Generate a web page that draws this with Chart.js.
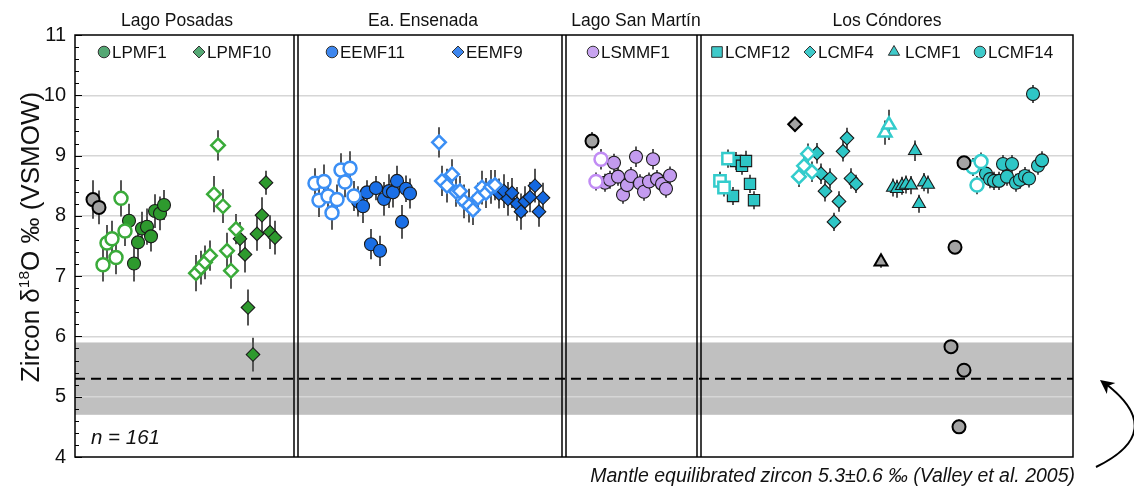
<!DOCTYPE html>
<html><head><meta charset="utf-8">
<script src="https://cdn.jsdelivr.net/npm/chart.js@4.4.1/dist/chart.umd.min.js"></script>
<style>html,body{margin:0;padding:0;background:#fff}#wrap{width:1134px;height:486px}</style>
</head><body><div id="wrap"><canvas id="c" width="1134" height="486"></canvas></div>
<script>
// ---------- DATA ----------
const yTicks = [4,5,6,7,8,9,10,11];
const panelTitles = ["Lago Posadas","Ea. Ensenada","Lago San Martín","Los Cóndores"];
const panelTitleSpots = [102,348,561,812];
const panelDividerSpots = [221,489,624];
const mantleMean = 5.3, mantleSD = 0.6;
const sampleCount = "n = 161";
const noteText = "Mantle equilibrated zircon 5.3±0.6 ‰ (Valley et al. 2005)";

// Lago Posadas
const lpGrayX=[18,24], lpGrayY=[8.27,8.14], lpGrayE=[0.32,0.28];
const lpmf1OpenX=[28,32,37,41,46,50], lpmf1OpenY=[7.19,7.55,7.62,7.31,8.29,7.75], lpmf1OpenE=[0.28,0.3,0.3,0.28,0.3,0.25];
const lpmf1X=[54,59,63,67,72,76,80,85,89], lpmf1Y=[7.92,7.21,7.56,7.79,7.82,7.66,8.08,8.04,8.18], lpmf1E=[0.28,0.3,0.3,0.28,0.3,0.25,0.28,0.28,0.25];
const lpmf10OpenX=[121,126,130,135,139,143,148,152,156,161], lpmf10OpenY=[7.05,7.14,7.23,7.34,8.36,9.17,8.16,7.42,7.09,7.78], lpmf10OpenE=[0.3,0.28,0.28,0.25,0.3,0.25,0.28,0.3,0.3,0.25];
const lpmf10X=[165,170,173,178,182,187,191,195,200], lpmf10Y=[7.62,7.36,6.48,5.70,7.70,8.01,8.55,7.73,7.64], lpmf10E=[0.28,0.3,0.3,0.28,0.28,0.3,0.2,0.28,0.28];
// Ea. Ensenada
const eemf11OpenX=[240,244,249,253,257,262,266,270,275,279], eemf11OpenY=[8.54,8.26,8.57,8.33,8.05,8.27,8.76,8.56,8.79,8.33], eemf11OpenE=[0.25,0.28,0.28,0.25,0.28,0.25,0.28,0.25,0.28,0.25];
const eemf11X=[283,288,292,296,301,305,309,314,318,322,327,331,335], eemf11Y=[8.24,8.16,8.39,7.53,8.46,7.42,8.28,8.41,8.39,8.58,7.90,8.45,8.37], eemf11E=[0.25,0.28,0.2,0.25,0.2,0.25,0.28,0.28,0.25,0.25,0.28,0.22,0.25];
const eemf9OpenX=[364,367,372,377,381,385,389,394,398,403,407,411,416,420], eemf9OpenY=[9.22,8.58,8.50,8.69,8.40,8.41,8.24,8.17,8.10,8.30,8.47,8.38,8.48,8.51], eemf9OpenE=[0.25,0.25,0.28,0.25,0.25,0.25,0.28,0.28,0.25,0.25,0.28,0.25,0.28,0.25];
const eemf9X=[424,429,433,437,442,446,450,455,460,464,468], eemf9Y=[8.37,8.41,8.28,8.38,8.20,8.07,8.24,8.31,8.50,8.07,8.30], eemf9E=[0.25,0.28,0.28,0.25,0.28,0.3,0.25,0.25,0.28,0.25,0.25];
// Lago San Martín
const lsmGrayX=[517], lsmGrayY=[9.24], lsmGrayE=[0.15];
const lsmmf1OpenX=[526,521], lsmmf1OpenY=[8.94,8.57], lsmmf1OpenE=[0.17,0.15];
const lsmmf1X=[530,535,539,543,548,552,556,561,565,569,574,578,582,587,591,595], lsmmf1Y=[8.55,8.60,8.88,8.65,8.35,8.51,8.66,8.98,8.54,8.40,8.57,8.94,8.61,8.53,8.45,8.67], lsmmf1E=[0.15,0.15,0.15,0.15,0.15,0.15,0.15,0.17,0.15,0.15,0.15,0.17,0.15,0.15,0.15,0.15];
// Los Cóndores
const lcmf12OpenX=[645,649,653], lcmf12OpenY=[8.58,8.47,8.95], lcmf12OpenE=[0.15,0.15,0.15];
const lcmf12X=[658,661,667,671,675,679], lcmf12Y=[8.33,8.91,8.83,8.91,8.53,8.26], lcmf12E=[0.15,0.15,0.15,0.17,0.15,0.15];
const lcmf4GrayX=[720], lcmf4GrayY=[9.52], lcmf4GrayE=[0.12];
const lcmf4OpenX=[724,729,733,737], lcmf4OpenY=[8.65,8.83,9.03,8.73], lcmf4OpenE=[0.17,0.17,0.17,0.17];
const lcmf4X=[742,746,750,755,759,764,768,772,776,781], lcmf4Y=[9.04,8.70,8.41,8.62,7.90,8.24,9.07,9.29,8.62,8.53], lcmf4E=[0.17,0.17,0.17,0.17,0.15,0.17,0.17,0.17,0.17,0.15];
const lcmf1GrayX=[806], lcmf1GrayY=[7.24], lcmf1GrayE=[0.1];
const lcmf1OpenX=[810,814], lcmf1OpenY=[9.38,9.51], lcmf1OpenE=[0.2,0.25];
const lcmf1X=[818,822,827,831,836,840,844,849,853], lcmf1Y=[8.47,8.45,8.50,8.52,8.51,9.08,8.20,8.56,8.52], lcmf1E=[0.15,0.15,0.15,0.15,0.15,0.17,0.15,0.15,0.15];
const lcmf14GrayX=[876,880,884,889,889], lcmf14GrayY=[5.83,7.48,4.50,8.88,5.44], lcmf14GrayE=[0.1,0.1,0.12,0.1,0.1];
const lcmf14OpenX=[898,902,906], lcmf14OpenY=[8.81,8.51,8.90], lcmf14OpenE=[0.15,0.15,0.15];
const lcmf14X=[911,915,919,924,928,932,937,941,945,950,954,958,963,967], lcmf14Y=[8.70,8.61,8.58,8.58,8.86,8.65,8.86,8.55,8.60,8.66,8.62,10.02,8.83,8.92], lcmf14E=[0.15,0.15,0.15,0.15,0.15,0.15,0.15,0.15,0.15,0.15,0.15,0.15,0.15,0.15];

const legendItems = [
  {label:"LPMF1", spot:29, style:'circle', color:'#55a874'},
  {label:"LPMF10", spot:124, style:'rectRot', color:'#55a874'},
  {label:"EEMF11", spot:257, style:'circle', color:'#3d86ee'},
  {label:"EEMF9", spot:383, style:'rectRot', color:'#3d86ee'},
  {label:"LSMMF1", spot:518, style:'circle', color:'#c8a4f0'},
  {label:"LCMF12", spot:642, style:'rect', color:'#3fcaca'},
  {label:"LCMF4", spot:735, style:'rectRot', color:'#3fcaca'},
  {label:"LCMF1", spot:819, style:'triangle', color:'#3fcaca'},
  {label:"LCMF14", spot:905, style:'circle', color:'#3fcaca'}
];

// ---------- STYLES ----------
const FONT = "'Liberation Sans', Arial, sans-serif";
const GREEN='#2e9a2e', GREEN_O='#3aab3a';
const BLUE='#1a6fe6', BLUE_O='#3b8ff5';
const PURPLE='#c39bef', PURPLE_O='#c18cf4';
const CYAN='#2ec6c6', CYAN_O='#33cccc';
const GRAY='#a3a3a3';
const RAD={circle:6.5, rectRot:6.8, rect:8, triangle:7.5};

function mk(xs, ys, es, style, kind, color){
  const data = xs.map((x,i)=>({x:x, y:ys[i]}));
  let bg, bc, bw;
  if(kind==='open'){bg='#ffffff'; bc=color; bw=2.5;}
  else if(kind==='gray'){bg=GRAY; bc='#000'; bw=2;}
  else {bg=color; bc='#1a1a1a'; bw=1.1;}
  return {data, errors:es, pointStyle:style, pointRadius:RAD[style], pointBackgroundColor:bg,
          pointBorderColor:bc, pointBorderWidth:bw, showLine:false, pointHoverRadius:RAD[style]};
}
const datasets = [
  mk(lpGrayX,lpGrayY,lpGrayE,'circle','gray'),
  mk(lpmf1OpenX,lpmf1OpenY,lpmf1OpenE,'circle','open',GREEN_O),
  mk(lpmf1X,lpmf1Y,lpmf1E,'circle','fill',GREEN),
  mk(lpmf10OpenX,lpmf10OpenY,lpmf10OpenE,'rectRot','open',GREEN_O),
  mk(lpmf10X,lpmf10Y,lpmf10E,'rectRot','fill',GREEN),
  mk(eemf11OpenX,eemf11OpenY,eemf11OpenE,'circle','open',BLUE_O),
  mk(eemf11X,eemf11Y,eemf11E,'circle','fill',BLUE),
  mk(eemf9OpenX,eemf9OpenY,eemf9OpenE,'rectRot','open',BLUE_O),
  mk(eemf9X,eemf9Y,eemf9E,'rectRot','fill','#1468e0'),
  mk(lsmGrayX,lsmGrayY,lsmGrayE,'circle','gray'),
  mk(lsmmf1OpenX,lsmmf1OpenY,lsmmf1OpenE,'circle','open',PURPLE_O),
  mk(lsmmf1X,lsmmf1Y,lsmmf1E,'circle','fill',PURPLE),
  mk(lcmf12OpenX,lcmf12OpenY,lcmf12OpenE,'rect','open',CYAN_O),
  mk(lcmf12X,lcmf12Y,lcmf12E,'rect','fill',CYAN),
  mk(lcmf4GrayX,lcmf4GrayY,lcmf4GrayE,'rectRot','gray'),
  mk(lcmf4OpenX,lcmf4OpenY,lcmf4OpenE,'rectRot','open',CYAN_O),
  mk(lcmf4X,lcmf4Y,lcmf4E,'rectRot','fill',CYAN),
  mk(lcmf1GrayX,lcmf1GrayY,lcmf1GrayE,'triangle','gray'),
  mk(lcmf1OpenX,lcmf1OpenY,lcmf1OpenE,'triangle','open',CYAN_O),
  mk(lcmf1X,lcmf1Y,lcmf1E,'triangle','fill',CYAN),
  mk(lcmf14GrayX,lcmf14GrayY,lcmf14GrayE,'circle','gray'),
  mk(lcmf14OpenX,lcmf14OpenY,lcmf14OpenE,'circle','open',CYAN_O),
  mk(lcmf14X,lcmf14Y,lcmf14E,'circle','fill',CYAN)
];

const deco = {
  id:'deco',
  beforeDraw(chart){
    const {ctx, chartArea:a} = chart; const y = chart.scales.y;
    ctx.save();
    ctx.fillStyle='#fff'; ctx.fillRect(0,0,chart.width,chart.height);
    const t=y.getPixelForValue(mantleMean+mantleSD), b=y.getPixelForValue(mantleMean-mantleSD);
    ctx.fillStyle='#c0c0c0'; ctx.fillRect(a.left,t,a.right-a.left,b-t);
    ctx.restore();
  },
  beforeDatasetsDraw(chart){
    const {ctx, chartArea:a} = chart; const y = chart.scales.y, x = chart.scales.x;
    ctx.save();
    ctx.strokeStyle='#000'; ctx.lineWidth=2; ctx.setLineDash([10,6]);
    const ym=y.getPixelForValue(mantleMean);
    ctx.beginPath(); ctx.moveTo(a.left,ym); ctx.lineTo(a.right,ym); ctx.stroke();
    ctx.setLineDash([]);
    ctx.lineWidth=1.5; ctx.strokeStyle='#000';
    panelDividerSpots.forEach(s=>{
      const px=x.getPixelForValue(s);
      [-2,2].forEach(o=>{ctx.beginPath(); ctx.moveTo(px+o,a.top); ctx.lineTo(px+o,a.bottom); ctx.stroke();});
    });
    ctx.strokeStyle='#555'; ctx.lineWidth=2;
    chart.data.datasets.forEach((ds,i)=>{
      const meta=chart.getDatasetMeta(i);
      meta.data.forEach((pt,j)=>{
        const v=ds.data[j].y, e=ds.errors[j];
        ctx.beginPath(); ctx.moveTo(pt.x,y.getPixelForValue(v+e)); ctx.lineTo(pt.x,y.getPixelForValue(v-e)); ctx.stroke();
      });
    });
    ctx.restore();
  },
  afterDraw(chart){
    const {ctx, chartArea:a} = chart; const y = chart.scales.y, x = chart.scales.x;
    ctx.save();
    ctx.strokeStyle='#000'; ctx.lineWidth=1.5;
    ctx.strokeRect(a.left,a.top,a.right-a.left,a.bottom-a.top);
    ctx.lineWidth=1;
    for(let k=0;k<=35;k++){
      const v=4+k*0.2; const py=Math.round(y.getPixelForValue(v))+0.5;
      const len=(k%5===0)?7:4;
      ctx.beginPath(); ctx.moveTo(a.left,py); ctx.lineTo(a.left+len,py); ctx.stroke();
    }
    ctx.fillStyle='#111'; ctx.font='17.5px '+FONT; ctx.textAlign='center'; ctx.textBaseline='alphabetic';
    panelTitles.forEach((t,i)=>ctx.fillText(t,x.getPixelForValue(panelTitleSpots[i]),26));
    ctx.textAlign='left'; ctx.textBaseline='middle'; ctx.font='17px '+FONT;
    const ly=a.top+17;
    legendItems.forEach(it=>{
      const px=x.getPixelForValue(it.spot);
      ctx.fillStyle=it.color; ctx.strokeStyle='#333'; ctx.lineWidth=1;
      const r = it.style==='rect'?7.5:(it.style==='triangle'?6.5:(it.style==='rectRot'?6:5.8));
      Chart.helpers.drawPoint(ctx,{pointStyle:it.style,radius:r,rotation:0,borderWidth:1},px,ly);
      ctx.fillStyle='#111';
      ctx.fillText(it.label,px+(it.style==='triangle'?11:8),ly+1);
    });
    ctx.font='italic 20.5px '+FONT; ctx.textBaseline='alphabetic'; ctx.textAlign='left';
    ctx.fillText(sampleCount,a.left+16,444);
    ctx.font='italic 19.5px '+FONT; ctx.textAlign='right';
    ctx.fillText(noteText,a.right+2,482);
    ctx.translate(30,237); ctx.rotate(-Math.PI/2);
    const big='26px '+FONT, small='15.5px '+FONT;
    const p1='Zircon δ', p2='18', p3='O ‰ (VSMOW)';
    ctx.font=big; const w1=ctx.measureText(p1).width, w3=ctx.measureText(p3).width;
    ctx.font=small; const w2=ctx.measureText(p2).width;
    let sx=-(w1+w2+w3)/2; ctx.textAlign='left'; ctx.fillStyle='#111';
    ctx.font=big; ctx.fillText(p1,sx,9); sx+=w1;
    ctx.font=small; ctx.fillText(p2,sx,-1); sx+=w2;
    ctx.font=big; ctx.fillText(p3,sx,9);
    ctx.setTransform(1,0,0,1,0,0);
    ctx.strokeStyle='#000'; ctx.lineWidth=2;
    const sx0=1096, sy0=467, cx=1168, cy=432, ex=1100, ey=380;
    ctx.beginPath(); ctx.moveTo(sx0,sy0); ctx.quadraticCurveTo(cx,cy,ex+6,ey+4); ctx.stroke();
    const ang=Math.atan2(ey-cy,ex-cx);
    ctx.fillStyle='#000'; ctx.beginPath();
    ctx.moveTo(ex,ey);
    ctx.lineTo(ex-14*Math.cos(ang)+7*Math.sin(ang), ey-14*Math.sin(ang)-7*Math.cos(ang));
    ctx.lineTo(ex-10*Math.cos(ang), ey-10*Math.sin(ang));
    ctx.lineTo(ex-14*Math.cos(ang)-7*Math.sin(ang), ey-14*Math.sin(ang)+7*Math.cos(ang));
    ctx.closePath(); ctx.fill();
    ctx.restore();
  }
};

new Chart(document.getElementById('c').getContext('2d'), {
  type:'scatter',
  data:{datasets},
  options:{
    responsive:false, animation:false, events:[],
    layout:{padding:{left:0,top:35,right:61,bottom:29}},
    plugins:{legend:{display:false}, tooltip:{enabled:false}},
    scales:{
      x:{type:'linear', min:0, max:998, display:false},
      y:{type:'linear', min:yTicks[0], max:yTicks[yTicks.length-1],
         afterBuildTicks(s){ s.ticks = yTicks.map(v=>({value:v})); },
         ticks:{font:{family:FONT,size:20}, color:'#111', padding:9},
         grid:{color:c=> (c.tick && (c.tick.value===yTicks[0]||c.tick.value===yTicks[yTicks.length-1]))?'rgba(0,0,0,0)':'#d6d6d6', lineWidth:1.5, drawTicks:false},
         border:{display:false},
         afterFit(s){ s.width=75; }
      }
    }
  },
  plugins:[deco]
});
</script></body></html>
